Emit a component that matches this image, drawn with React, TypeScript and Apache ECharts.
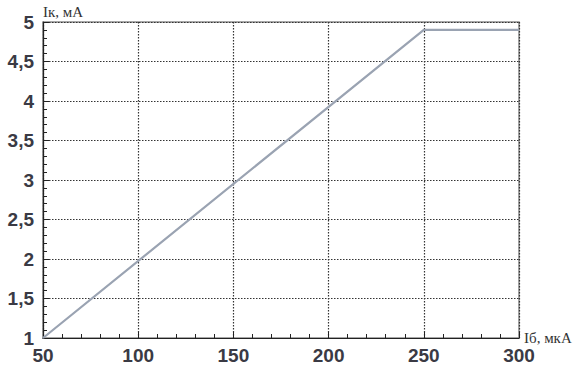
import React, { useEffect, useRef } from "react";
import * as echarts from "echarts";

const baseCurrent = [50, 250, 300];
const collectorCurrent = [1, 4.9, 4.9];
const xName = "Iб, мкА";
const yName = "Iк, мА";

export default function App() {
  const ref = useRef<HTMLDivElement>(null);
  useEffect(() => {
    if (!ref.current) return;
    const chart = echarts.init(ref.current, null, { renderer: "svg" });
    const labelStyle = {
      color: "#3a3a44",
      fontFamily: "Liberation Sans, Arial, sans-serif",
      fontWeight: "bold" as const,
      fontSize: 19,
    };
    chart.setOption({
      animation: false,
      backgroundColor: "#ffffff",
      grid: {
        left: 43,
        top: 22,
        right: 59,
        bottom: 35,
        show: true,
        borderColor: "#8a8a8a",
        borderWidth: 1.5,
      },
      xAxis: {
        type: "value",
        min: 50,
        max: 300,
        interval: 50,
        name: xName,
        nameLocation: "end",
        nameGap: 5,
        nameTextStyle: {
          fontFamily: "Liberation Serif, Times New Roman, serif",
          fontSize: 15,
          color: "#333",
          verticalAlign: "middle",
        },
        axisLine: { show: true, lineStyle: { color: "#222", width: 1.2 } },
        axisTick: { show: true, inside: true, length: 6, lineStyle: { color: "#222" } },
        minorTick: { show: true, splitNumber: 5, length: 4, lineStyle: { color: "#222" } },
        axisLabel: { ...labelStyle, margin: 8 },
        splitLine: {
          show: true,
          lineStyle: { color: "#333", type: [1.5, 1.5], width: 1.2 },
        },
      },
      yAxis: {
        type: "value",
        min: 1,
        max: 5,
        interval: 0.5,
        name: yName,
        nameLocation: "end",
        nameGap: 3,
        nameTextStyle: {
          fontFamily: "Liberation Serif, Times New Roman, serif",
          fontSize: 15,
          color: "#333",
          align: "left",
        },
        axisLine: { show: true, lineStyle: { color: "#222", width: 1.2 } },
        axisTick: { show: true, inside: true, length: 6, lineStyle: { color: "#222" } },
        minorTick: { show: true, splitNumber: 5, length: 4, lineStyle: { color: "#222" } },
        axisLabel: {
          ...labelStyle,
          margin: 9,
          formatter: (v: number) => String(v).replace(".", ","),
        },
        splitLine: {
          show: true,
          lineStyle: { color: "#333", type: [1.5, 1.5], width: 1.2 },
        },
      },
      series: [
        {
          type: "line",
          data: baseCurrent.map((x, i) => [x, collectorCurrent[i]]),
          showSymbol: false,
          lineStyle: { color: "#9aa3b2", width: 2.2 },
        },
      ],
    });
    return () => chart.dispose();
  }, []);
  return (
    <div
      ref={ref}
      style={{ position: "fixed", left: 0, top: 0, width: 578, height: 373 }}
    />
  );
}
